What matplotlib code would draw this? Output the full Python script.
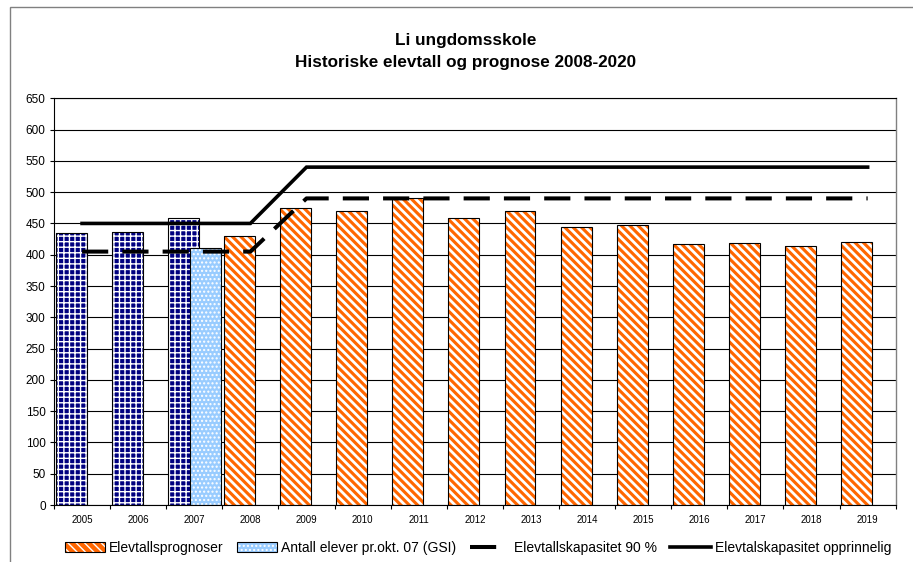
import matplotlib
matplotlib.use("Agg")
import matplotlib.pyplot as plt
from matplotlib.patches import Rectangle
import numpy as np

plt.rcParams['font.family'] = ['Liberation Sans', 'DejaVu Sans']

# ---- data ----
years = ['2005', '2006', '2007', '2008', '2009', '2010', '2011', '2012',
         '2013', '2014', '2015', '2016', '2017', '2018', '2019']
historic_years = ['2005', '2006', '2007']
historic_values = [434, 437, 458]
gsi_years = ['2007']
gsi_values = [410]
forecast_years = ['2008', '2009', '2010', '2011', '2012', '2013', '2014',
                  '2015', '2016', '2017', '2018', '2019']
forecast_values = [430, 474, 470, 490, 458, 470, 444, 448, 417, 419, 414, 420]
capacity_90 = [405, 405, 405, 405, 490, 490, 490, 490, 490, 490, 490, 490, 490, 490, 490]
capacity_orig = [450, 450, 450, 450, 540, 540, 540, 540, 540, 540, 540, 540, 540, 540, 540]

title1 = 'Li ungdomsskole'
title2 = 'Historiske elevtall og prognose 2008-2020'
labels = ['Elevtallsprognoser', 'Antall elever pr.okt. 07 (GSI)',
          'Elevtallskapasitet 90 %', 'Elevtalskapasitet opprinnelig']

W, H = 913, 562
fig = plt.figure(figsize=(W / 100, H / 100), dpi=100)
ax = fig.add_axes([54 / W, 1 - 505 / H, (895.7 - 54) / W, (505 - 98.3) / H])

idx = {y: i for i, y in enumerate(years)}
x = np.arange(len(years))

def set_hlw(container, lw):
    for p in container:
        if hasattr(p, 'set_hatch_linewidth'):
            p.set_hatch_linewidth(lw)

bw = 0.55
# historic (navy, white grid)
hx = np.array([idx[y] for y in historic_years]) - 0.5 + 0.03
plt.rcParams['hatch.linewidth'] = 1.0
b_hist = ax.bar(hx, historic_values, width=bw, align='edge', color='#000080',
                edgecolor='white', hatch='+++', linewidth=0, zorder=2)
set_hlw(b_hist, 1.0)
ax.bar(hx, historic_values, width=bw, align='edge', facecolor='none',
       edgecolor='black', linewidth=0.8, zorder=2.1)

# forecast (orange, white diagonal)
fx = np.array([idx[y] for y in forecast_years]) - 0.5 + 0.03
plt.rcParams['hatch.linewidth'] = 2.0
b_fc = ax.bar(fx, forecast_values, width=bw, align='edge', color='#FF6600',
              edgecolor='white', hatch='\\\\\\\\', linewidth=0, zorder=2)
set_hlw(b_fc, 2.0)
o_fc = ax.bar(fx, forecast_values, width=bw, align='edge', facecolor='none',
              edgecolor='black', linewidth=0.8, zorder=2.1)

# GSI (light blue dots)
gx = np.array([idx[y] for y in gsi_years]) - 0.5 + 0.43
plt.rcParams['hatch.linewidth'] = 1.0
b_gsi = ax.bar(gx, gsi_values, width=0.54, align='edge', color='#99CCFF',
               edgecolor='white', hatch='....', linewidth=0, zorder=2.2)
set_hlw(b_gsi, 1.0)
o_gsi = ax.bar(gx, gsi_values, width=0.54, align='edge', facecolor='none',
               edgecolor='black', linewidth=0.8, zorder=2.3)

# lines
l90, = ax.plot(x, capacity_90, color='black', lw=2.9,
               linestyle=(0, (6.5, 3.5)), zorder=3)
lorig, = ax.plot(x, capacity_orig, color='black', lw=2.6, zorder=3,
                 solid_joinstyle='miter')

# axes
ax.set_xlim(-0.5, len(years) - 0.5)
ax.set_ylim(0, 650)
ax.set_yticks(np.arange(0, 651, 50))
ax.yaxis.grid(True, color='black', linewidth=0.8, zorder=0)
ax.set_axisbelow(True)
ax.tick_params(axis='y', direction='out', length=3, width=0.8, labelsize=8.5, pad=3)
ax.set_xticks(np.arange(-0.5, len(years), 1.0))
ax.set_xticklabels([])
ax.set_xticks(x, minor=True)
ax.set_xticklabels(years, minor=True, fontsize=7)
ax.tick_params(axis='x', which='major', direction='out', length=3, width=0.8)
ax.tick_params(axis='x', which='minor', length=0, pad=7)
for s in ['left', 'bottom', 'top']:
    ax.spines[s].set_color('black')
    ax.spines[s].set_linewidth(0.8)
ax.spines['right'].set_color('#808080')
ax.spines['right'].set_linewidth(1.0)

# titles
fig.text(466 / W, 1 - 40 / H, title1, ha='center', va='center',
         fontsize=12.3, fontweight='bold')
fig.text(466 / W, 1 - 62 / H, title2, ha='center', va='center',
         fontsize=12.3, fontweight='bold')

# legend
leg = fig.legend([(b_fc[0], o_fc[0]), (b_gsi[0], o_gsi[0]), l90, lorig], labels,
                 ncol=4, frameon=False,
                 loc='center', bbox_to_anchor=(478 / W, 1 - 548 / H),
                 bbox_transform=fig.transFigure, fontsize=10,
                 handlelength=2.9, handletextpad=0.3, columnspacing=0.95,
                 borderpad=0, borderaxespad=0)

# chart frame
fig.patches.append(Rectangle((10 / W, -0.1), 1.2, 1.1 - 7 / H,
                             transform=fig.transFigure, fill=False,
                             edgecolor='#808080', linewidth=1.0))

fig.savefig('out.png', dpi=100)
